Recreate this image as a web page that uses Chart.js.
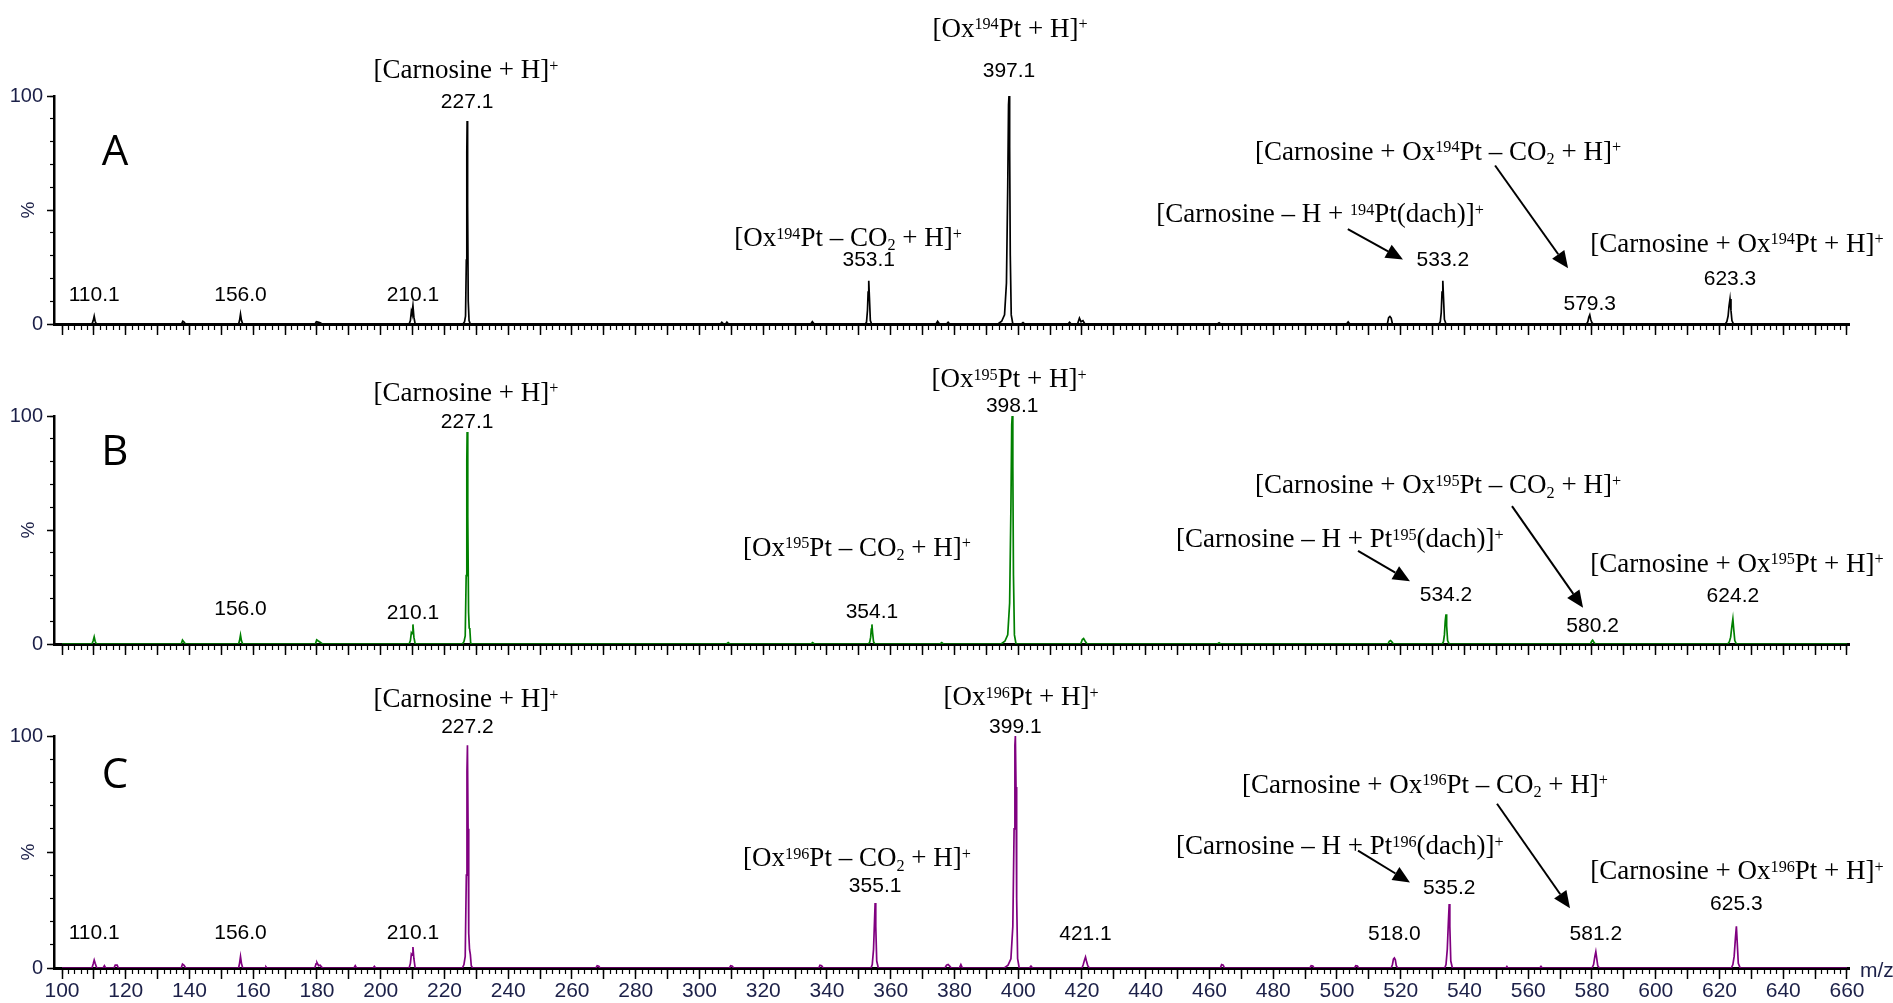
<!DOCTYPE html>
<html>
<head>
<meta charset="utf-8">
<title>ESI-MS spectra: carnosine + oxaliplatin</title>
<script src="https://cdn.jsdelivr.net/npm/chart.js@4.4.1/dist/chart.umd.min.js"></script>
<style>
  html, body { margin: 0; padding: 0; background: #ffffff; }
  body { width: 1893px; height: 1003px; position: relative; overflow: hidden; }
  canvas { position: absolute; left: 0; }
</style>
</head>
<body>
<canvas id="panelA" width="1893" height="340" style="top:0px"></canvas>
<canvas id="panelB" width="1893" height="320" style="top:340px"></canvas>
<canvas id="panelC" width="1893" height="343" style="top:660px"></canvas>
<script>
// ---------- data ----------
const xTickLabels = [100, 120, 140, 160, 180, 200, 220, 240, 260, 280, 300, 320, 340, 360, 380,
  400, 420, 440, 460, 480, 500, 520, 540, 560, 580, 600, 620, 640, 660];
const yTickLabels = [0, 100];

// profile spectra as [m/z, relative intensity %]
const spectrumA = [
  [100, 0],
  [109.4, 0], [109.8, 1.5], [110.1, 3.4], [110.4, 1.2], [110.8, 0],
  [137.5, 0], [137.9, 1.2], [138.3, 0.8], [138.7, 0],
  [155.4, 0], [155.7, 1.5], [156.0, 4.3], [156.3, 1.6], [156.7, 0],
  [179.4, 0], [179.8, 1.0], [180.3, 0.8], [181.0, 0.5], [181.6, 0],
  [208.9, 0], [209.3, 1.5], [209.6, 5.5], [209.8, 4.5], [210.1, 8.0], [210.4, 3.0], [210.8, 0],
  [225.8, 0], [226.3, 1.0], [226.6, 3.5], [226.85, 28], [227.0, 75], [227.1, 89], [227.25, 52], [227.45, 10], [227.7, 1.5], [228.1, 0],
  [306.6, 0], [307.0, 0.8], [307.6, 0], [308.2, 0], [308.6, 0.8], [309.1, 0],
  [334.9, 0], [335.4, 1.0], [336.0, 0],
  [352.0, 0], [352.4, 0.8], [352.7, 6], [352.9, 14], [353.1, 19], [353.3, 12], [353.6, 1.5], [354.0, 0],
  [374.2, 0], [374.7, 1.2], [375.3, 0], [377.5, 0], [378.0, 0.8], [378.5, 0],
  [393.6, 0], [394.8, 1.2], [395.7, 4], [396.3, 18], [396.7, 60], [396.95, 96], [397.1, 100], [397.3, 78], [397.5, 30], [397.8, 4], [398.3, 0],
  [401.0, 0], [401.5, 0.6], [402.0, 0],
  [415.6, 0], [416.1, 0.8], [416.6, 0], [418.6, 0], [419.2, 2.6], [419.7, 1.0], [420.3, 1.5], [420.9, 0],
  [462.5, 0], [463.0, 0.5], [463.5, 0],
  [503.0, 0], [503.5, 0.9], [504.0, 0],
  [515.8, 0], [516.2, 2.8], [516.6, 3.3], [517.0, 2.6], [517.4, 0],
  [532.0, 0], [532.4, 1.0], [532.7, 5], [532.95, 14], [533.2, 19], [533.4, 12], [533.7, 2], [534.2, 0],
  [578.3, 0], [578.7, 1.0], [579.0, 3.0], [579.3, 4.0], [579.6, 2.0], [580.0, 0.5], [580.4, 0],
  [621.8, 0], [622.3, 1.0], [622.7, 3.5], [623.0, 8], [623.3, 11], [623.6, 6], [623.9, 1.5], [624.4, 0],
  [660, 0]
];

const spectrumB = [
  [100, 0],
  [109.4, 0], [109.8, 1.5], [110.1, 3.1], [110.4, 1.2], [110.8, 0],
  [137.4, 0], [137.8, 1.7], [138.2, 1.0], [138.7, 0],
  [155.4, 0], [155.7, 1.5], [156.0, 3.9], [156.3, 1.4], [156.7, 0],
  [179.5, 0], [179.9, 1.8], [180.3, 1.4], [181.0, 0.8], [181.7, 0],
  [208.9, 0], [209.3, 1.5], [209.6, 5.0], [209.85, 4.5], [210.1, 8.6], [210.4, 3.0], [210.8, 0],
  [225.6, 0], [226.1, 1.0], [226.5, 3.5], [226.8, 30], [227.0, 80], [227.1, 93], [227.3, 56], [227.55, 14], [227.75, 7], [227.95, 6.5], [228.2, 0.5], [228.5, 0],
  [308.5, 0], [309.0, 0.6], [309.5, 0],
  [335.0, 0], [335.5, 0.6], [336.0, 0],
  [353.0, 0], [353.4, 0.8], [353.7, 3], [353.9, 6.5], [354.1, 8.6], [354.3, 5], [354.6, 1], [355.0, 0],
  [375.5, 0], [376.0, 0.6], [376.5, 0],
  [394.6, 0], [395.8, 1.2], [396.7, 4], [397.3, 18], [397.7, 60], [397.95, 96], [398.1, 100], [398.3, 78], [398.5, 30], [398.8, 4], [399.3, 0],
  [419.6, 0], [420.1, 2.0], [420.5, 2.4], [421.0, 1.2], [421.6, 0],
  [462.5, 0], [463.0, 0.5], [463.5, 0],
  [516.0, 0], [516.4, 1.2], [516.8, 1.5], [517.2, 1.0], [517.7, 0],
  [533.0, 0], [533.4, 1.0], [533.7, 4], [533.95, 10], [534.2, 13], [534.4, 8], [534.7, 1.5], [535.2, 0],
  [579.5, 0], [579.9, 1.2], [580.2, 1.7], [580.6, 0.8], [581.0, 0],
  [622.6, 0], [623.1, 1.0], [623.5, 3], [623.9, 8], [624.2, 11], [624.5, 6], [624.8, 1.5], [625.3, 0],
  [660, 0]
];

const spectrumC = [
  [100, 0],
  [109.4, 0], [109.8, 1.8], [110.1, 3.4], [110.4, 2.0], [110.8, 0.4], [111.1, 0],
  [112.9, 0], [113.3, 1.0], [113.7, 0],
  [116.3, 0], [116.7, 1.2], [117.3, 1.2], [117.7, 0],
  [137.4, 0], [137.8, 1.7], [138.3, 1.2], [138.8, 0],
  [155.4, 0], [155.7, 2.0], [156.0, 4.9], [156.3, 2.0], [156.7, 0],
  [163.7, 0], [164.0, 0.5], [164.3, 0],
  [179.3, 0], [179.7, 1.8], [180.0, 2.3], [180.5, 1.0], [181.0, 1.2], [181.5, 0.3], [182.0, 0],
  [191.6, 0], [192.0, 1.0], [192.4, 0],
  [197.6, 0], [198.0, 0.7], [198.4, 0],
  [208.9, 0], [209.3, 2.0], [209.6, 6.0], [209.85, 5.5], [210.1, 9.0], [210.4, 4.0], [210.8, 0],
  [225.6, 0], [226.1, 1.5], [226.5, 5], [226.85, 40], [227.05, 85], [227.2, 96], [227.4, 60], [227.6, 15], [227.85, 8], [228.1, 6], [228.4, 1], [228.8, 0],
  [267.5, 0], [267.9, 1.0], [268.4, 0.8], [268.8, 0],
  [309.4, 0], [309.8, 1.0], [310.3, 0.8], [310.7, 0],
  [337.4, 0], [337.8, 1.2], [338.3, 1.0], [338.8, 0],
  [353.8, 0], [354.2, 1.5], [354.6, 8], [354.9, 20], [355.1, 28], [355.3, 18], [355.6, 3], [356.1, 0],
  [377.0, 0], [377.5, 1.2], [378.0, 1.5], [378.5, 0.8], [379.0, 0], [381.5, 0], [382.0, 1.5], [382.5, 0],
  [395.6, 0], [396.8, 1.2], [397.7, 4], [398.3, 18], [398.7, 60], [398.95, 96], [399.1, 100], [399.3, 78], [399.5, 30], [399.8, 4], [400.3, 0],
  [403.5, 0], [404.0, 0.8], [404.5, 0],
  [420.0, 0], [420.4, 1.5], [420.8, 3.5], [421.1, 4.7], [421.4, 3.0], [421.8, 1.0], [422.3, 0],
  [463.4, 0], [463.8, 1.5], [464.3, 1.2], [464.7, 0],
  [491.5, 0], [491.9, 1.0], [492.4, 0.9], [492.8, 0],
  [505.5, 0], [505.9, 1.0], [506.4, 0.9], [506.8, 0],
  [517.0, 0], [517.4, 1.5], [517.7, 3.8], [518.0, 4.3], [518.3, 3.5], [518.6, 1.0], [519.0, 0],
  [533.8, 0], [534.2, 1.5], [534.6, 8], [534.95, 20], [535.2, 27.6], [535.4, 18], [535.7, 3], [536.2, 0],
  [553.0, 0], [553.3, 0.6], [553.6, 0],
  [563.6, 0], [564.0, 0.7], [564.4, 0],
  [580.0, 0], [580.5, 1.5], [580.9, 5], [581.2, 7], [581.5, 4], [581.8, 1], [582.3, 0],
  [623.7, 0], [624.2, 1.5], [624.6, 5], [625.0, 13], [625.3, 18], [625.6, 10], [625.9, 2], [626.5, 0],
  [660, 0]
];

// annotated peak m/z values
const peakMzA = [110.1, 156.0, 210.1, 227.1, 353.1, 397.1, 533.2, 579.3, 623.3];
const peakMzB = [156.0, 210.1, 227.1, 354.1, 398.1, 534.2, 580.2, 624.2];
const peakMzC = [110.1, 156.0, 210.1, 227.2, 355.1, 399.1, 421.1, 518.0, 535.2, 581.2, 625.3];

// ---------- layout of annotations (axis units: m/z, %) ----------
const peakLabelYA = [13.4, 13.4, 13.4, 97.9, 28.8, 111.6, 28.8, 9.6, 20.3];
const peakLabelYB = [15.9, 14.2, 97.9, 14.9, 105, 22.3, 8.6, 21.9];
const peakLabelYC = [15.9, 15.9, 15.9, 104.7, 36, 104.7, 15.5, 15.5, 35.2, 15.5, 28.3];

const ionLabelsA = [
  { text: '[Carnosine + H]^{+}', x: 226.7, y: 111.6 },
  { text: '[Ox^{194}Pt + H]^{+}', x: 397.4, y: 130.0 },
  { text: '[Ox^{194}Pt \u2013 CO_{2} + H]^{+}', x: 346.6, y: 38.2 },
  { text: '[Carnosine + Ox^{194}Pt \u2013 CO_{2} + H]^{+}', x: 531.7, y: 76.0 },
  { text: '[Carnosine \u2013 H + ^{194}Pt(dach)]^{+}', x: 494.7, y: 48.5 },
  { text: '[Carnosine + Ox^{194}Pt + H]^{+}', x: 625.5, y: 35.6 }
];
const ionLabelsB = [
  { text: '[Carnosine + H]^{+}', x: 226.7, y: 110.7 },
  { text: '[Ox^{195}Pt + H]^{+}', x: 397.1, y: 116.7 },
  { text: '[Ox^{195}Pt \u2013 CO_{2} + H]^{+}', x: 349.4, y: 42.6 },
  { text: '[Carnosine + Ox^{195}Pt \u2013 CO_{2} + H]^{+}', x: 531.7, y: 70.0 },
  { text: '[Carnosine \u2013 H + Pt^{195}(dach)]^{+}', x: 500.9, y: 46.4 },
  { text: '[Carnosine + Ox^{195}Pt + H]^{+}', x: 625.5, y: 35.6 }
];
const ionLabelsC = [
  { text: '[Carnosine + H]^{+}', x: 226.7, y: 116.3 },
  { text: '[Ox^{196}Pt + H]^{+}', x: 400.9, y: 117.2 },
  { text: '[Ox^{196}Pt \u2013 CO_{2} + H]^{+}', x: 349.4, y: 47.6 },
  { text: '[Carnosine + Ox^{196}Pt \u2013 CO_{2} + H]^{+}', x: 527.6, y: 79.4 },
  { text: '[Carnosine \u2013 H + Pt^{196}(dach)]^{+}', x: 500.9, y: 52.8 },
  { text: '[Carnosine + Ox^{196}Pt + H]^{+}', x: 625.5, y: 42.1 }
];

const arrowsA = [
  { from: [503.4, 41.6], to: [520.7, 28.3] },
  { from: [549.6, 69.5], to: [572.5, 24.5] }
];
const arrowsB = [
  { from: [506.6, 40.8], to: [522.9, 27.5] },
  { from: [554.9, 60.5], to: [577.2, 15.9] }
];
const arrowsC = [
  { from: [506.6, 50.6], to: [522.9, 36.9] },
  { from: [550.2, 70.8], to: [573.1, 25.8] }
];

// ---------- styling ----------
const X_MIN = 97.49, X_MAX = 660.63;
const TICK_TEXT = '#1c2048';
const SANS = '"Liberation Sans", Arial, sans-serif';
const SERIF = '"Liberation Serif", "Times New Roman", serif';
const LETTER_FONT = '"Open Sans", "Noto Sans", sans-serif';

const minorTicks = [];
for (let v = 100; v <= 660; v += 2) minorTicks.push(v);
const majorTicks = [];
for (let v = 100; v <= 660; v += 10) majorTicks.push(v);
const yMinorTicks = [0, 10, 20, 30, 40, 50, 60, 70, 80, 90, 100];
const yMajorTicks = [0, 50, 100];

// text with ^{superscript} and _{subscript} runs
function parseRich(s) {
  const parts = [];
  const re = /(\^|_)\{([^}]*)\}/g;
  let last = 0, m;
  while ((m = re.exec(s))) {
    if (m.index > last) parts.push({ t: s.slice(last, m.index), k: 'n' });
    parts.push({ t: m[2], k: m[1] === '^' ? 'sup' : 'sub' });
    last = re.lastIndex;
  }
  if (last < s.length) parts.push({ t: s.slice(last), k: 'n' });
  return parts;
}

function drawRich(ctx, s, cx, cy, size) {
  const parts = parseRich(s);
  const small = size * 0.6;
  let total = 0;
  parts.forEach(p => {
    ctx.font = (p.k === 'n' ? size : small) + 'px ' + SERIF;
    p.w = ctx.measureText(p.t).width;
    total += p.w;
  });
  let x = cx - total / 2;
  const base = cy + 0.33 * size;
  ctx.textAlign = 'left';
  ctx.textBaseline = 'alphabetic';
  parts.forEach(p => {
    ctx.font = (p.k === 'n' ? size : small) + 'px ' + SERIF;
    let y = base;
    if (p.k === 'sup') y = base - 0.27 * size;
    if (p.k === 'sub') y = base + 0.16 * size;
    ctx.fillText(p.t, x, y);
    x += p.w;
  });
}

function drawArrow(ctx, x1, y1, x2, y2) {
  const ang = Math.atan2(y2 - y1, x2 - x1);
  const head = 17, half = 7.5;
  const bx = x2 - head * Math.cos(ang), by = y2 - head * Math.sin(ang);
  ctx.beginPath();
  ctx.moveTo(x1, y1);
  ctx.lineTo(bx, by);
  ctx.lineWidth = 2;
  ctx.strokeStyle = '#000';
  ctx.stroke();
  ctx.beginPath();
  ctx.moveTo(x2, y2);
  ctx.lineTo(bx + half * Math.sin(ang), by - half * Math.cos(ang));
  ctx.lineTo(bx - half * Math.sin(ang), by + half * Math.cos(ang));
  ctx.closePath();
  ctx.fillStyle = '#000';
  ctx.fill();
}

function annotationPlugin(panel) {
  return {
    id: 'panelText',
    afterDraw(chart) {
      const ctx = chart.ctx;
      const xs = chart.scales.x, ys = chart.scales.y;
      ctx.save();
      ctx.fillStyle = '#000';

      // panel letter
      ctx.font = '42px ' + LETTER_FONT;
      ctx.textAlign = 'center';
      ctx.textBaseline = 'alphabetic';
      ctx.fillText(panel.letter, xs.getPixelForValue(116.6), ys.getPixelForValue(panel.letterY) + 15);

      // peak m/z values
      ctx.font = '21px ' + SANS;
      panel.peaks.forEach((mz, i) => {
        ctx.textAlign = 'center';
        ctx.textBaseline = 'alphabetic';
        ctx.fillStyle = '#000';
        ctx.fillText(mz.toFixed(1), xs.getPixelForValue(mz), ys.getPixelForValue(panel.peakLabelY[i]) + 7.5);
      });

      // ion assignments
      ctx.fillStyle = '#000';
      panel.ions.forEach(l => drawRich(ctx, l.text, xs.getPixelForValue(l.x), ys.getPixelForValue(l.y), 27));

      // arrows
      panel.arrows.forEach(a => drawArrow(ctx,
        xs.getPixelForValue(a.from[0]), ys.getPixelForValue(a.from[1]),
        xs.getPixelForValue(a.to[0]), ys.getPixelForValue(a.to[1])));

      if (panel.showMz) {
        ctx.font = '21px ' + SANS;
        ctx.fillStyle = TICK_TEXT;
        ctx.textAlign = 'left';
        ctx.textBaseline = 'alphabetic';
        ctx.fillText('m/z', chart.chartArea.right + 11, chart.chartArea.bottom + 9);
      }
      ctx.restore();
    }
  };
}

function buildPanel(panel) {
  const canvas = document.getElementById(panel.id);
  const H = canvas.height;
  return new Chart(canvas, {
    type: 'line',
    data: {
      datasets: [{
        data: panel.spectrum.map(([x, y]) => ({ x, y })),
        borderColor: panel.color,
        borderWidth: 1.7,
        pointRadius: 0,
        tension: 0,
        fill: false,
        xAxisID: 'x',
        yAxisID: 'y'
      }]
    },
    options: {
      responsive: false,
      animation: false,
      devicePixelRatio: 1,
      events: [],
      layout: { padding: { top: panel.areaTop, left: 0, right: 44, bottom: 0 } },
      plugins: { legend: { display: false }, tooltip: { enabled: false } },
      scales: {
        x: {
          type: 'linear', position: 'bottom', weight: 0, min: X_MIN, max: X_MAX,
          afterBuildTicks: s => { s.ticks = minorTicks.map(v => ({ value: v })); },
          afterFit: s => { s.height = 0; s.paddingLeft = 0; s.paddingRight = 0; },
          grid: { drawOnChartArea: false, drawTicks: true, tickLength: 6, tickWidth: 1.2, tickColor: '#000' },
          border: { display: true, color: '#000', width: 3 },
          ticks: { display: false }
        },
        xMajor: {
          type: 'linear', position: 'bottom', weight: 1, min: X_MIN, max: X_MAX,
          afterBuildTicks: s => { s.ticks = majorTicks.map(v => ({ value: v })); },
          afterFit: s => { s.height = H - panel.areaBottom; s.paddingLeft = 0; s.paddingRight = 0; },
          grid: { drawOnChartArea: false, drawTicks: true, tickLength: 11, tickWidth: 1.5, tickColor: '#000' },
          border: { display: false },
          ticks: {
            display: panel.showMz, autoSkip: false, maxRotation: 0, minRotation: 0, padding: 0,
            color: TICK_TEXT, font: { family: SANS, size: 21 },
            callback: v => xTickLabels.includes(v) ? String(v) : ''
          }
        },
        y: {
          type: 'linear', position: 'left', weight: 0, min: 0, max: 100,
          afterBuildTicks: s => { s.ticks = yMinorTicks.map(v => ({ value: v })); },
          afterFit: s => { s.width = 0; s.paddingTop = 0; s.paddingBottom = 0; },
          grid: { drawOnChartArea: false, drawTicks: true, tickLength: 4, tickWidth: 1.2, tickColor: '#000' },
          border: { display: true, color: '#000', width: 2.5 },
          ticks: { display: false }
        },
        yMajor: {
          type: 'linear', position: 'left', weight: 1, min: 0, max: 100,
          afterBuildTicks: s => { s.ticks = yMajorTicks.map(v => ({ value: v })); },
          afterFit: s => { s.width = 54; },
          grid: { drawOnChartArea: false, drawTicks: true, tickLength: 7, tickWidth: 1.5, tickColor: '#000' },
          border: { display: false },
          ticks: {
            padding: 4, autoSkip: false, color: TICK_TEXT, font: { family: SANS, size: 20 },
            callback: v => yTickLabels.includes(v) ? String(v) : ''
          },
          title: {
            display: true, text: '%', color: TICK_TEXT,
            font: { family: SANS, size: 19 }, padding: { top: 17, bottom: 0 }
          }
        }
      }
    },
    plugins: [annotationPlugin(panel)]
  });
}

const panels = [
  { id: 'panelA', letter: 'A', color: '#000000', spectrum: spectrumA, peaks: peakMzA, peakLabelY: peakLabelYA,
    ions: ionLabelsA, arrows: arrowsA, letterY: 76.4, areaTop: 96, areaBottom: 329, showMz: false },
  { id: 'panelB', letter: 'B', color: '#008000', spectrum: spectrumB, peaks: peakMzB, peakLabelY: peakLabelYB,
    ions: ionLabelsB, arrows: arrowsB, letterY: 85, areaTop: 76, areaBottom: 309, showMz: false },
  { id: 'panelC', letter: 'C', color: '#800080', spectrum: spectrumC, peaks: peakMzC, peakLabelY: peakLabelYC,
    ions: ionLabelsC, arrows: arrowsC, letterY: 84, areaTop: 76, areaBottom: 308, showMz: true }
];
panels.forEach(buildPanel);
</script>
</body>
</html>
